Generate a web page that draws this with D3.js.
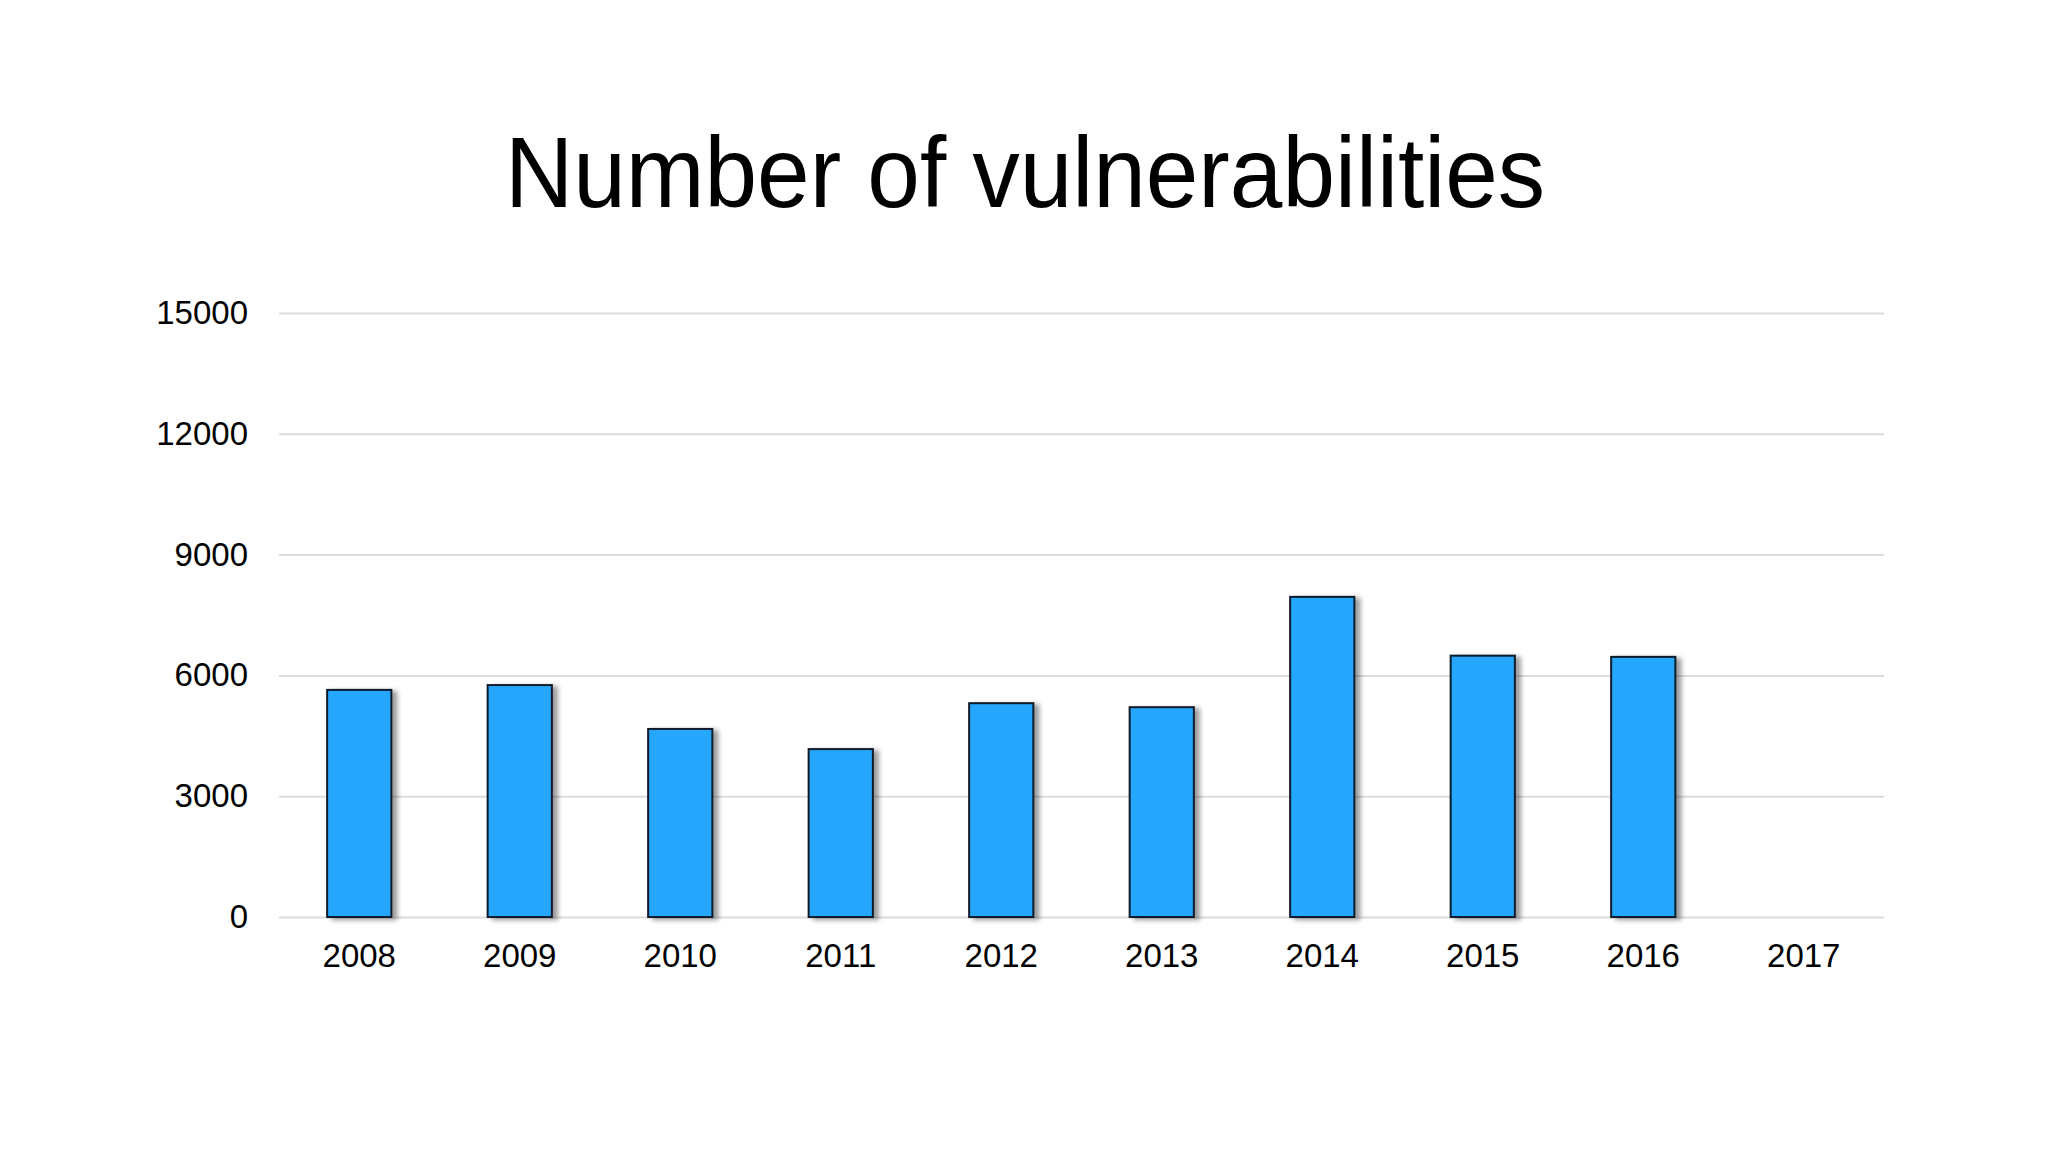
<!DOCTYPE html>
<html><head><meta charset="utf-8">
<script src="https://cdn.jsdelivr.net/npm/d3@7"></script>
<style>html,body{margin:0;padding:0;background:#fff;}svg{display:block;}</style>
</head><body>
<script>
const categories = ["2008","2009","2010","2011","2012","2013","2014","2015","2016","2017"];
const values = [5640, 5760, 4670, 4170, 5310, 5210, 7950, 6490, 6460, null];
const yTicks = [0, 3000, 6000, 9000, 12000, 15000];
const title = "Number of vulnerabilities";

const W = 2048, H = 1152;
const svg = d3.select("body").append("svg").attr("width", W).attr("height", H);
const defs = svg.append("defs");
const f = defs.append("filter").attr("id","sh").attr("x","-20%").attr("y","-5%").attr("width","150%").attr("height","110%");
f.append("feGaussianBlur").attr("in","SourceAlpha").attr("stdDeviation",2.5).attr("result","b");
f.append("feOffset").attr("in","b").attr("dx",5).attr("dy",2).attr("result","o");
f.append("feComponentTransfer").attr("in","o").attr("result","o2").append("feFuncA").attr("type","linear").attr("slope",0.4);
const m = f.append("feMerge"); m.append("feMergeNode").attr("in","o2"); m.append("feMergeNode").attr("in","SourceGraphic");

const x = d3.scaleBand().domain(categories).range([279, 1884]).paddingInner(0.6).paddingOuter(0.3);
const y = d3.scaleLinear().domain([0, 15000]).range([917, 313]);

svg.append("text").attr("x", 1025).attr("y", 207).attr("text-anchor","middle")
  .attr("font-family","Liberation Sans, Arial, sans-serif").attr("font-size",100).attr("fill","#000")
  .attr("textLength",1040).attr("lengthAdjust","spacingAndGlyphs").text(title);

const yAxis = svg.append("g").attr("transform","translate(279,0)")
  .call(d3.axisLeft(y).tickValues(yTicks).tickSize(-1605).tickPadding(31).tickFormat(d3.format("d")));
yAxis.select(".domain").remove();
yAxis.selectAll(".tick line").attr("stroke","#dcdcdc").attr("stroke-width",2);
yAxis.selectAll(".tick text").attr("font-family","Liberation Sans, Arial, sans-serif").attr("font-size",33).attr("fill","#000");

const xAxis = svg.append("g").attr("transform","translate(0,917)")
  .call(d3.axisBottom(x).tickSize(0).tickPadding(27));
xAxis.select(".domain").remove();
xAxis.selectAll(".tick text").attr("font-family","Liberation Sans, Arial, sans-serif").attr("font-size",33).attr("fill","#000");

svg.append("g").selectAll("rect").data(categories.map((c,i)=>({c, v: values[i]})).filter(d=>d.v!=null))
  .join("rect")
  .attr("x", d => x(d.c)).attr("width", x.bandwidth())
  .attr("y", d => y(d.v)).attr("height", d => y(0) - y(d.v))
  .attr("fill","#25a7fe").attr("stroke","#0c1c2c").attr("stroke-width",2)
  .attr("filter","url(#sh)");
</script>
</body></html>
